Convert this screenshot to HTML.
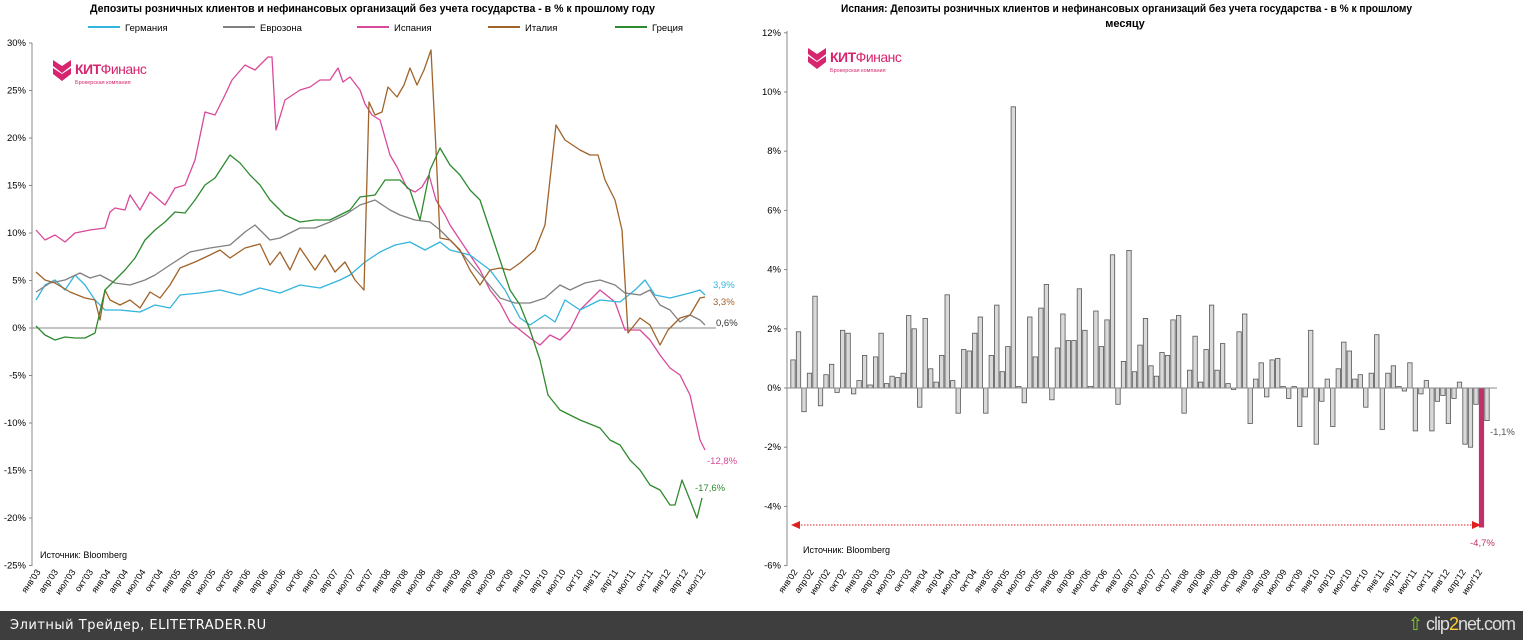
<!DOCTYPE html>
<html><head><meta charset="utf-8">
<style>
html,body{margin:0;padding:0;background:#fff;}
body{width:1523px;height:640px;overflow:hidden;position:relative;font-family:"Liberation Sans","DejaVu Sans",sans-serif;}
svg text{font-family:"Liberation Sans","DejaVu Sans",sans-serif;}
#foot{position:absolute;left:0;top:611px;width:1523px;height:29px;background:#3e3e3e;color:#fff;font-family:"DejaVu Sans",sans-serif;font-size:13px;}
</style></head><body>
<svg id="s" width="1523" height="611" xmlns="http://www.w3.org/2000/svg"></svg>
<div id="foot"><span style="position:absolute;left:10px;top:7px;letter-spacing:0.5px">Элитный Трейдер, ELITETRADER.RU</span>
<span style="position:absolute;right:8px;top:3px;font-size:18px;color:#ddd;font-family:'Liberation Sans',sans-serif;letter-spacing:-1px"><span style="color:#8c3">⇧</span> clip<span style="color:#fc3">2</span>net.com</span></div>
<script>
var s=document.getElementById('s'),h='';
function T(x,y,t,o){h+='<text x="'+x+'" y="'+y+'" '+(o||'')+'>'+t+'</text>';}
T(90,12,'Депозиты розничных клиентов  и нефинансовых организаций  без учета государства  - в % к прошлому году','style="font-size:11px;font-weight:bold" textLength="565" lengthAdjust="spacingAndGlyphs"');
var leg=[['Германия','#33b5dd',88],['Еврозона','#808080',223],['Испания','#d9499a',357],['Италия','#a0632a',488],['Греция','#2e8a2e',615]];
leg.forEach(function(l){h+='<line x1="'+l[2]+'" y1="27" x2="'+(l[2]+32)+'" y2="27" stroke="'+l[1]+'" stroke-width="2"/>';T(l[2]+37,31,l[0],'style="font-size:9.5px"');});
var y0=328,k=9.5;
h+='<line x1="32" y1="43" x2="32" y2="566" stroke="#888"/>';
for(var v=30;v>=-25;v-=5){var y=y0-v*k;h+='<line x1="29" y1="'+y+'" x2="32" y2="'+y+'" stroke="#888"/>';T(26,y+3,v+'%','style="font-size:9.5px" text-anchor="end"');}
h+='<line x1="32" y1="328" x2="716" y2="328" stroke="#888"/>';
var mo=['янв','апр','июл','окт'];
for(var i=0;i<39;i++){var x=32+i*17.5+9,yr=3+Math.floor(i/4);var lb=mo[i%4]+"'"+(yr<10?'0':'')+yr;h+='<text x="'+x+'" y="572" transform="rotate(-55 '+x+' 572)" text-anchor="end" style="font-size:9px">'+lb+'</text>';}
T(40,558,'Источник: Bloomberg','style="font-size:9px"');
function P(pts,c){h+='<polyline fill="none" stroke="'+c+'" stroke-width="1.3" stroke-linejoin="round" points="'+pts+'"/>';}
P('36,230 45,240 55,235 65,242 75,233 90,230 105,228 110,212 115,208 125,210 130,195 140,210 150,192 165,205 175,188 185,185 195,160 205,112 215,115 225,95 232,80 245,65 255,70 268,57 272,57 276,130 285,100 300,90 310,87 320,80 330,80 338,68 343,82 350,77 360,90 365,104 372,115 380,120 390,155 397,167 407,188 415,192 422,187 429,175 436,200 445,215 450,225 460,240 470,255 480,270 490,290 500,303 510,322 520,330 530,338 540,345 550,335 560,340 570,330 580,310 590,300 600,290 610,298 615,302 625,330 640,330 650,340 660,355 670,368 680,375 690,395 700,440 705,450','#d9499a');
P('36,300 45,285 55,280 65,290 75,275 85,285 95,300 105,310 120,310 140,312 155,305 170,308 180,295 200,293 220,290 240,295 260,288 280,293 300,285 320,288 340,280 350,275 365,262 380,252 395,245 410,242 425,250 440,242 450,250 470,255 490,270 505,290 520,318 530,325 545,315 555,322 565,300 580,310 590,305 600,300 620,302 635,290 645,280 655,295 670,298 690,293 700,290 705,295','#33b5dd');
P('36,292 50,283 65,280 80,273 90,278 100,275 115,283 130,285 145,280 155,275 170,265 190,252 210,248 230,245 245,232 255,225 270,240 280,238 300,228 315,228 330,222 345,215 360,205 375,200 390,210 400,215 415,220 430,222 440,230 455,245 470,263 485,280 500,298 515,303 530,303 545,298 560,285 570,290 585,283 600,280 615,285 625,293 640,295 650,290 660,305 670,310 680,322 690,315 700,320 705,325','#808080');
P('36,272 45,280 55,283 70,292 85,298 95,300 100,320 105,290 110,300 120,305 130,300 140,308 150,292 160,298 170,285 180,268 195,262 210,255 220,250 230,258 245,248 260,244 270,265 280,252 290,270 300,248 315,270 325,255 335,272 345,262 355,280 364,290 369,102 375,115 382,112 388,87 397,97 404,85 410,68 417,85 424,70 431,50 436,150 440,238 450,240 460,250 470,270 480,285 490,270 500,268 510,270 520,263 535,250 545,225 556,125 565,140 580,150 590,155 598,155 605,180 615,200 622,230 628,333 640,318 650,325 660,345 668,330 680,318 690,315 700,298 705,297','#a0632a');
P('36,326 45,335 55,340 65,337 75,338 85,338 95,333 105,290 115,280 125,270 135,258 145,240 155,230 165,222 175,212 185,213 195,200 205,185 215,178 230,155 240,163 250,175 260,185 270,200 285,215 300,222 315,220 330,220 350,210 360,197 375,195 385,180 400,180 410,190 420,220 430,170 440,148 450,165 460,175 470,190 480,200 490,230 500,260 510,290 520,305 530,330 540,360 548,395 560,410 580,420 600,428 610,440 620,445 630,460 640,470 650,485 660,490 670,505 675,505 682,480 690,500 697,518 702,498','#2e8a2e');
T(713,288,'3,9%','style="font-size:9.5px;fill:#33b5dd"');T(713,305,'3,3%','style="font-size:9.5px;fill:#a0632a"');T(716,326,'0,6%','style="font-size:9.5px;fill:#333"');
T(707,464,'-12,8%','style="font-size:9.5px;fill:#d9499a"');T(695,491,'-17,6%','style="font-size:9.5px;fill:#2e8a2e"');
T(841,12,'Испания: Депозиты розничных клиентов  и нефинансовых организаций без учета государства  - в % к прошлому','style="font-size:11px;font-weight:bold" textLength="571" lengthAdjust="spacingAndGlyphs"');
T(1125,27,'месяцу','style="font-size:11px;font-weight:bold" text-anchor="middle"');
var Y0=388,K=29.6;
h+='<line x1="787" y1="31" x2="787" y2="566" stroke="#888"/>';
for(var v=12;v>=-6;v-=2){var y=Y0-v*K;h+='<line x1="784" y1="'+y+'" x2="787" y2="'+y+'" stroke="#888"/>';T(781,y+3,v+'%','style="font-size:9.5px" text-anchor="end"');}
var d=[0.95,1.9,-0.8,0.5,3.1,-0.6,0.45,0.8,-0.15,1.95,1.85,-0.2,0.25,1.1,0.1,1.05,1.85,0.15,0.4,0.35,0.5,2.45,2.0,-0.65,2.35,0.65,0.2,1.1,3.15,0.25,-0.85,1.3,1.25,1.85,2.4,-0.85,1.1,2.8,0.55,1.4,9.5,0.05,-0.5,2.4,1.05,2.7,3.5,-0.4,1.35,2.5,1.6,1.6,3.35,1.95,0.05,2.6,1.4,2.3,4.5,-0.55,0.9,4.65,0.55,1.45,2.35,0.75,0.4,1.2,1.1,2.3,2.45,-0.85,0.6,1.75,0.2,1.3,2.8,0.6,1.5,0.15,-0.05,1.9,2.5,-1.2,0.3,0.85,-0.3,0.95,1.0,0.05,-0.35,0.05,-1.3,-0.3,1.95,-1.9,-0.45,0.3,-1.3,0.65,1.55,1.25,0.3,0.45,-0.65,0.5,1.8,-1.4,0.5,0.75,0.05,-0.1,0.85,-1.45,-0.2,0.25,-1.45,-0.45,-0.25,-1.2,-0.35,0.2,-1.9,-2.0,-0.55,-4.7,-1.1];
var st=(1487-793)/(d.length-1);
d.forEach(function(v,i){var x=793+i*st-2.2,y=v>0?Y0-v*K:Y0,hh=Math.abs(v)*K;var pink=(i==d.length-2);
h+='<rect x="'+x.toFixed(1)+'" y="'+y.toFixed(1)+'" width="4.4" height="'+hh.toFixed(1)+'" fill="'+(pink?'#c0306a':'#d9d9d9')+'" stroke="'+(pink?'#c0306a':'#555')+'" stroke-width="0.8"/>';});
h+='<line x1="787" y1="388" x2="1497" y2="388" stroke="#888"/>';
h+='<line x1="798" y1="525" x2="1474" y2="525" stroke="#e02020" stroke-dasharray="1.5,1.5"/>';
h+='<polygon points="791,525 800,521 800,529" fill="#e02020"/><polygon points="1481,525 1472,521 1472,529" fill="#e02020"/>';
T(1490,435,'-1,1%','style="font-size:9.5px;fill:#555"');T(1470,546,'-4,7%','style="font-size:9.5px;fill:#c0306a"');
T(803,553,'Источник: Bloomberg','style="font-size:9px"');
for(var i=0;i<43;i++){var x=789+i*16.3+9,yr=2+Math.floor(i/4);var lb=mo[i%4]+"'"+(yr<10?'0':'')+yr;h+='<text x="'+x+'" y="572" transform="rotate(-55 '+x+' 572)" text-anchor="end" style="font-size:9px">'+lb+'</text>';}
function logo(x,y){h+='<path d="M'+x+','+y+' l9,6 l9,-6 v6 l-9,7 l-9,-7z M'+x+','+(y+8)+' l9,6 l9,-6 v6 l-9,7 l-9,-7z" fill="#d6246e"/>';
T(x+22,y+14,'<tspan style="font-weight:bold">КИТ</tspan>Финанс','style="font-size:14px;fill:#d6246e;letter-spacing:-0.5px"');
T(x+22,y+24,'Брокерская компания','style="font-size:5.5px;fill:#d6246e"');}
logo(53,60);logo(808,48);
s.innerHTML=h;
</script>
</body></html>
